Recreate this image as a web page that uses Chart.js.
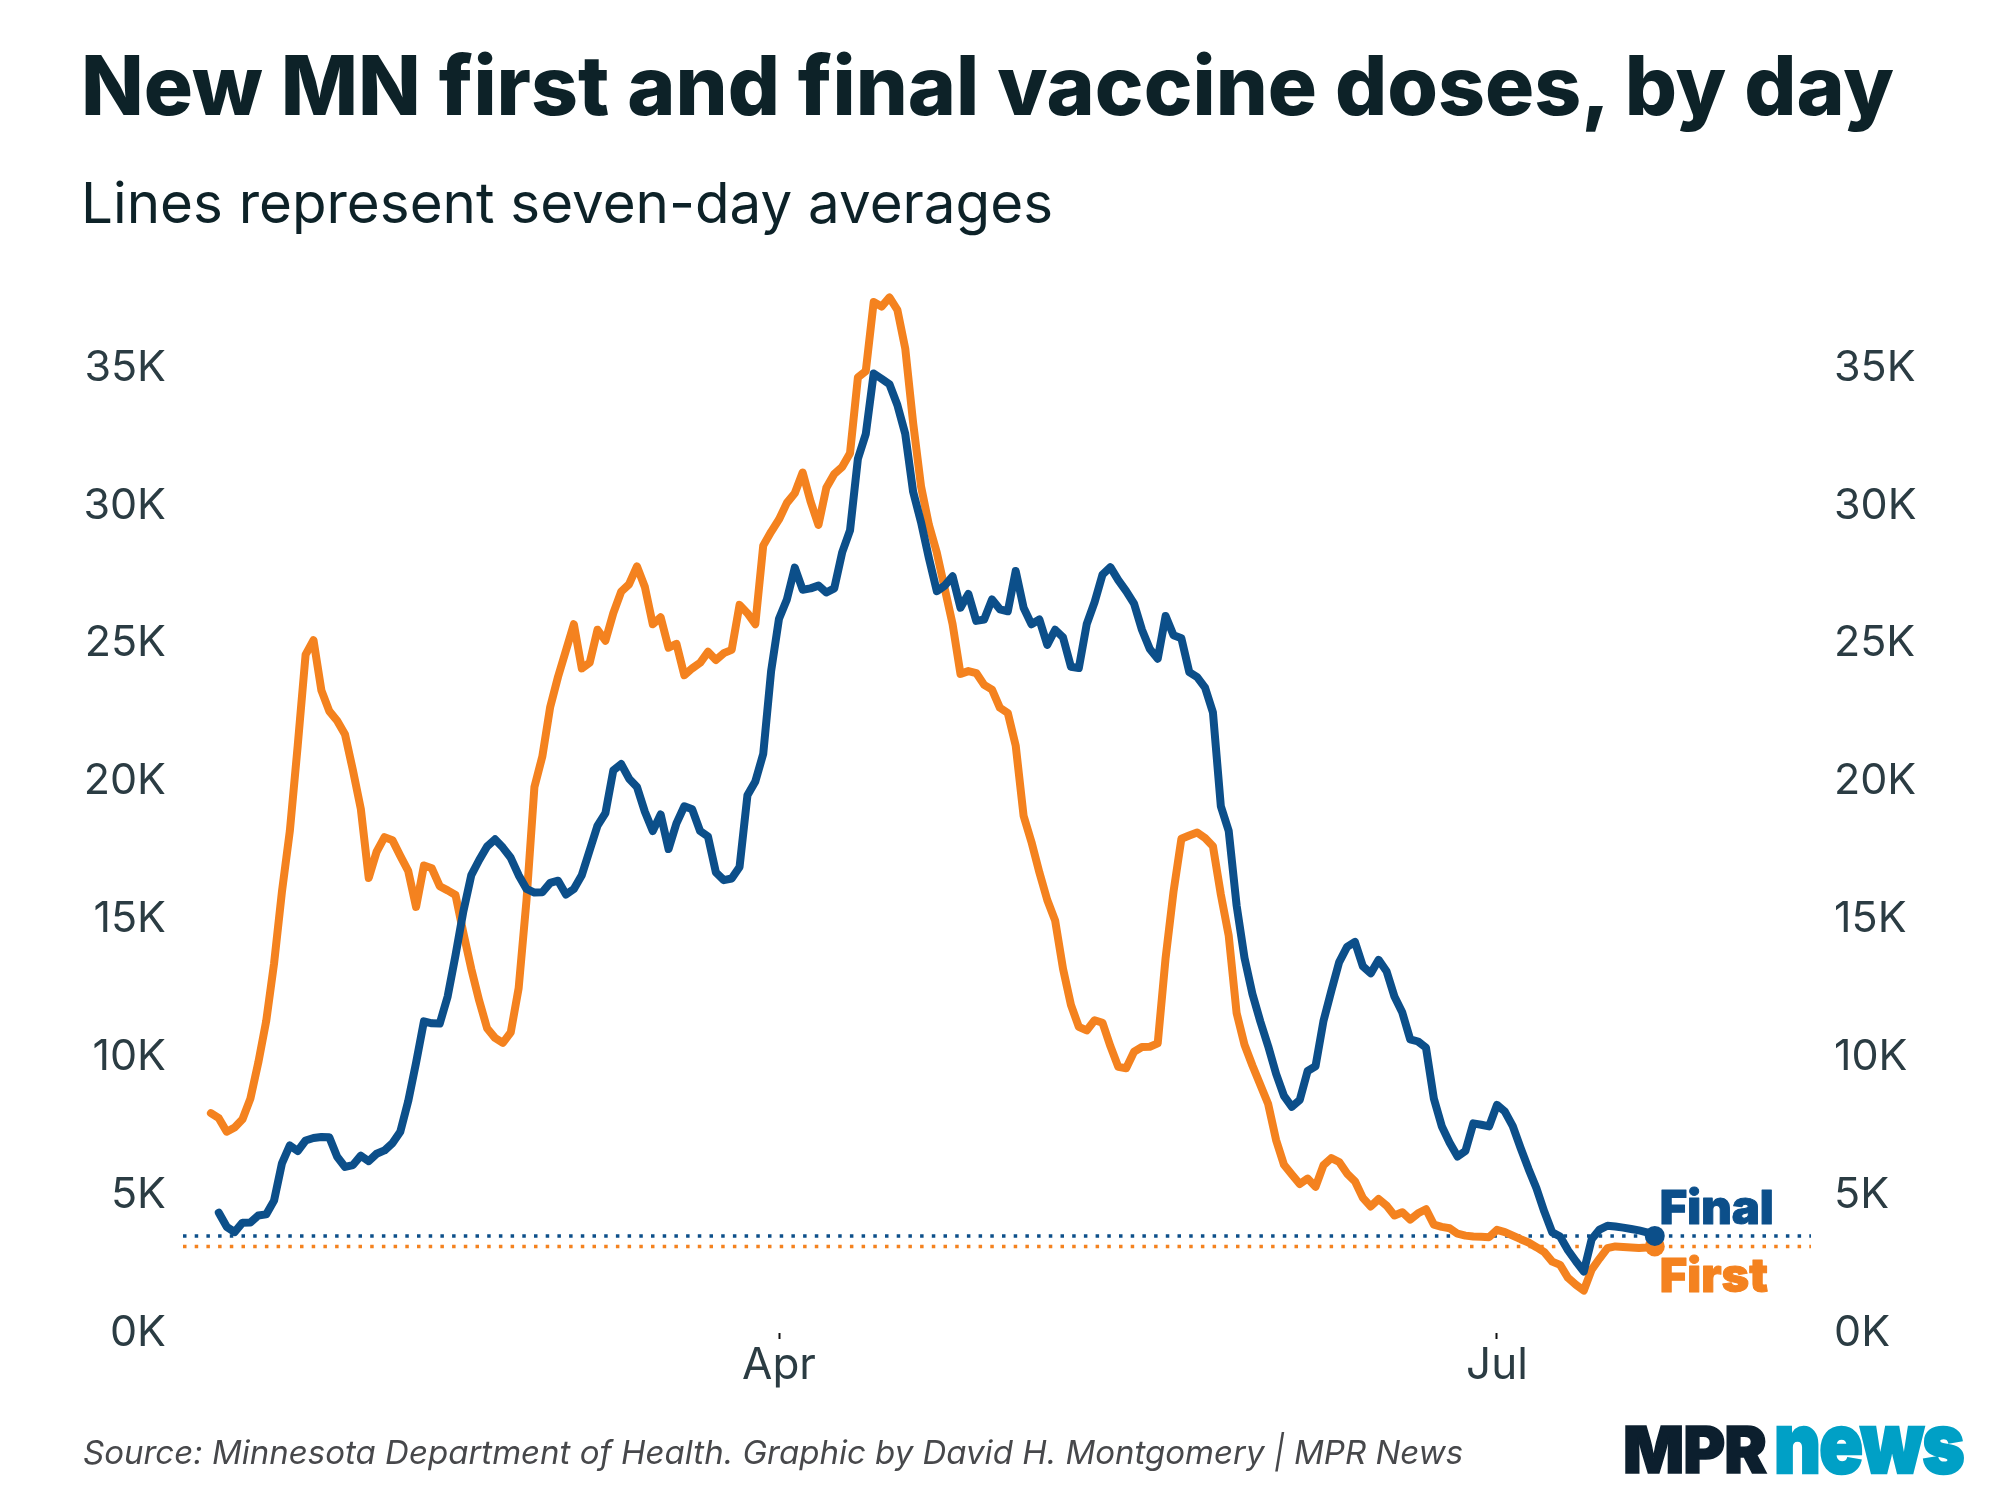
<!DOCTYPE html>
<html>
<head>
<meta charset="utf-8">
<script src="https://cdn.jsdelivr.net/npm/chart.js@4.4.1/dist/chart.umd.min.js"></script>
<style>
html,body{margin:0;padding:0;background:#fff;}
#wrap{position:relative;width:2000px;height:1500px;overflow:hidden;font-family:Inter, "Noto Sans", sans-serif;}
#c{position:absolute;left:0;top:0;}
.t{position:absolute;white-space:nowrap;line-height:1;z-index:2;}
#title{left:81px;top:45px;font-size:82px;font-weight:800;color:#0d2228;}
#sub{left:81px;top:175px;font-size:56.5px;font-weight:400;color:#0d2228;}
#src{left:83px;top:1436px;font-size:33px;font-style:italic;color:#47484b;}
#mpr{left:1623px;top:1418px;font-size:64px;font-weight:900;color:#0c1f2e;letter-spacing:-1px;-webkit-text-stroke:1.5px #0c1f2e;}
#news{left:1774px;top:1401px;font-size:84px;font-weight:900;color:#00a0c6;transform:scaleX(0.86);transform-origin:0 0;letter-spacing:-2px;-webkit-text-stroke:2.5px #00a0c6;}
</style>
</head>
<body>
<div id="wrap">
  <canvas id="c" width="2000" height="1500"></canvas>
  <div class="t" id="title">New MN first and final vaccine doses, by day</div>
  <div class="t" id="sub">Lines represent seven-day averages</div>
  <div class="t" id="src">Source: Minnesota Department of Health. Graphic by David H. Montgomery | MPR News</div>
  <div class="t" id="mpr">MPR</div>
  <div class="t" id="news">news</div>
</div>
<script>
// Day of year (2021) of the first value in each series: Jan 19
const START_DAY = 19;

// Seven-day average of new first doses, one value per day (Jan 19 - Jul 21)
const FIRST_DOSES = [
  7970, 7790, 7300, 7450, 7750, 8500, 9800, 11300, 13400, 16000,
  18200, 21300, 24600, 25120, 23300, 22550, 22200, 21700, 20400, 19000,
  16500, 17450, 17980, 17870, 17300, 16760, 15450, 16950, 16850, 16200,
  16050, 15880, 14500, 13200, 12050, 11050, 10700, 10520, 10900, 12500,
  15700, 19800, 20900, 22700, 23800, 24750, 25700, 24100, 24300, 25500,
  25100, 26100, 26880, 27150, 27800, 27050, 25700, 25950, 24850, 24990,
  23850, 24100, 24300, 24700, 24400, 24650, 24770, 26400, 26100, 25700,
  28550, 29050, 29500, 30100, 30450, 31200, 30150, 29300, 30650, 31150,
  31400, 31900, 34650, 34880, 37380, 37220, 37550, 37100, 35700, 33000,
  30700, 29300, 28300, 27000, 25700, 23900, 24000, 23930, 23500, 23330,
  22670, 22480, 21300, 18750, 17800, 16700, 15700, 14950, 13200, 11900,
  11100, 10970, 11340, 11250, 10400, 9650, 9600, 10200, 10370, 10380,
  10500, 13600, 16000, 17920, 18040, 18150, 17950, 17650, 15900, 14400,
  11600, 10450, 9700, 9000, 8300, 7000, 6100, 5750, 5400, 5600,
  5300, 6080, 6340, 6200, 5780, 5500, 4900, 4590, 4860, 4620,
  4260, 4380, 4110, 4340, 4490, 3930, 3850, 3800, 3600, 3530,
  3500, 3490, 3475, 3740, 3660, 3530, 3400, 3280, 3110, 2930,
  2590, 2470, 2000, 1750, 1540, 2300, 2700, 3080, 3140, 3120,
  3100, 3080, 3100, 3140
];

// Seven-day average of new final doses, one value per day (Jan 19 - Jul 21)
const FINAL_DOSES = [
  null, 4360, 3850, 3660, 4000, 4010, 4260, 4300, 4800, 6150,
  6800, 6600, 6980, 7070, 7110, 7100, 6390, 6020, 6090, 6430,
  6230, 6500, 6620, 6880, 7300, 8400, 9800, 11300, 11230, 11220,
  12200, 13700, 15300, 16600, 17150, 17640, 17900, 17600, 17230, 16600,
  16100, 15970, 15980, 16320, 16400, 15900, 16100, 16600, 17500, 18400,
  18850, 20400, 20630, 20100, 19800, 18900, 18200, 18800, 17550, 18480,
  19100, 18990, 18200, 18000, 16700, 16420, 16480, 16900, 19500, 20000,
  21000, 24000, 25900, 26600, 27750, 26950, 27000, 27100, 26850, 27000,
  28300, 29100, 31700, 32600, 34790, 34600, 34400, 33650, 32600, 30500,
  29400, 28100, 26900, 27100, 27440, 26300, 26800, 25820, 25870, 26600,
  26240, 26170, 27630, 26300, 25700, 25870, 24950, 25500, 25220, 24160,
  24110, 25700, 26500, 27500, 27770, 27300, 26900, 26450, 25500, 24800,
  24450, 26000, 25300, 25190, 23960, 23780, 23400, 22500, 19100, 18200,
  15500, 13600, 12300, 11300, 10400, 9400, 8600, 8200, 8450, 9500,
  9670, 11300, 12400, 13450, 14000, 14180, 13300, 13040, 13530, 13120,
  12200, 11620, 10650, 10570, 10350, 8500, 7500, 6900, 6400, 6600,
  7600, 7550, 7490, 8270, 8030, 7500, 6700, 5950, 5250, 4400,
  3650, 3500, 3000, 2600, 2230, 3400, 3750, 3890, 3860, 3820,
  3770, 3720, 3650, 3520
];

const SERIES_LABELS = ['First', 'Final'];
const X_TICK_DAYS = [91, 182];          // Apr 1, Jul 1
const X_TICK_LABELS = ['Apr', 'Jul'];
const Y_TICKS = [0, 5000, 10000, 15000, 20000, 25000, 30000, 35000];
const Y_TICK_LABELS = ['0K', '5K', '10K', '15K', '20K', '25K', '30K', '35K'];

// ---- layout / style ----
const X_MIN = 15.46, X_MAX = 221.8, Y_MIN = 0, Y_MAX = 38000;
const ORANGE = '#f4821f', BLUE = '#0c4f8a', TICK_COLOR = '#2b3c43';

const toPoints = arr => arr.map((v, i) => ({ x: START_DAY + i, y: v }));
const lastOf = arr => arr[arr.length - 1];
const refLine = arr => [{ x: X_MIN, y: lastOf(arr) }, { x: X_MAX, y: lastOf(arr) }];
const endRadius = arr => ctx => (ctx.dataIndex === arr.length - 1 ? 10 : 0);

const endLabels = {
  id: 'endLabels',
  afterDatasetsDraw(chart) {
    const ctx = chart.ctx;
    const pFirst = chart.getDatasetMeta(2).data[FIRST_DOSES.length - 1];
    const pFinal = chart.getDatasetMeta(3).data[FINAL_DOSES.length - 1];
    ctx.save();
    ctx.font = '900 47px Inter';
    ctx.textBaseline = 'alphabetic';
    ctx.textAlign = 'left';
    ctx.lineJoin = 'round';
    ctx.lineWidth = 1;
    ctx.fillStyle = BLUE;
    ctx.strokeStyle = BLUE;
    ctx.fillText(SERIES_LABELS[1], pFinal.x + 5, pFinal.y - 12);
    ctx.strokeText(SERIES_LABELS[1], pFinal.x + 5, pFinal.y - 12);
    ctx.fillStyle = ORANGE;
    ctx.strokeStyle = ORANGE;
    ctx.fillText(SERIES_LABELS[0], pFirst.x + 5, pFirst.y + 46);
    ctx.strokeText(SERIES_LABELS[0], pFirst.x + 5, pFirst.y + 46);
    ctx.restore();
  }
};

const tickFont = { family: 'Inter', size: 43 };

new Chart(document.getElementById('c'), {
  type: 'line',
  data: {
    datasets: [
      { label: SERIES_LABELS[0] + ' ref', data: refLine(FIRST_DOSES), borderColor: ORANGE,
        borderWidth: 3.5, borderDash: [3.5, 8.2], borderCapStyle: 'butt', pointRadius: 0, order: 4 },
      { label: SERIES_LABELS[1] + ' ref', data: refLine(FINAL_DOSES), borderColor: BLUE,
        borderWidth: 3.5, borderDash: [3.5, 8.2], borderCapStyle: 'butt', pointRadius: 0, order: 3 },
      { label: SERIES_LABELS[0], data: toPoints(FIRST_DOSES), borderColor: ORANGE, borderWidth: 8,
        pointRadius: endRadius(FIRST_DOSES), pointBackgroundColor: ORANGE, pointBorderWidth: 0,
        pointHoverRadius: 0, order: 2 },
      { label: SERIES_LABELS[1], data: toPoints(FINAL_DOSES), borderColor: BLUE, borderWidth: 8,
        pointRadius: endRadius(FINAL_DOSES), pointBackgroundColor: BLUE, pointBorderWidth: 0,
        pointHoverRadius: 0, order: 1 }
    ]
  },
  options: {
    responsive: false,
    animation: false,
    devicePixelRatio: 1,
    layout: { padding: { top: 285, left: 0, right: 0, bottom: 0 } },
    plugins: { legend: { display: false }, tooltip: { enabled: false } },
    elements: { line: { tension: 0, borderJoinStyle: 'round', borderCapStyle: 'round' } },
    scales: {
      x: {
        type: 'linear', min: X_MIN, max: X_MAX,
        afterBuildTicks: s => { s.ticks = X_TICK_DAYS.map(v => ({ value: v })); },
        afterFit: s => { s.height = 167; },
        ticks: { autoSkip: false, maxRotation: 0, padding: 7, color: TICK_COLOR,
          font: { family: 'Inter', size: 44, lineHeight: 0.92 },
          callback: v => X_TICK_LABELS[X_TICK_DAYS.indexOf(v)] },
        grid: { display: true, drawOnChartArea: false, drawTicks: true, tickLength: 6, tickWidth: 2, tickColor: '#111' },
        border: { display: false }
      },
      y: {
        position: 'left', min: Y_MIN, max: Y_MAX,
        afterBuildTicks: s => { s.ticks = Y_TICKS.map(v => ({ value: v })); },
        afterFit: s => { s.width = 183; },
        ticks: { padding: 17, color: TICK_COLOR, font: tickFont,
          callback: v => Y_TICK_LABELS[Y_TICKS.indexOf(v)] },
        grid: { display: false, drawTicks: false },
        border: { display: false }
      },
      y2: {
        position: 'right', min: Y_MIN, max: Y_MAX,
        afterBuildTicks: s => { s.ticks = Y_TICKS.map(v => ({ value: v })); },
        afterFit: s => { s.width = 189; },
        ticks: { padding: 23, color: TICK_COLOR, font: tickFont,
          callback: v => Y_TICK_LABELS[Y_TICKS.indexOf(v)] },
        grid: { display: false, drawTicks: false },
        border: { display: false }
      }
    }
  },
  plugins: [endLabels]
});
</script>
</body>
</html>
